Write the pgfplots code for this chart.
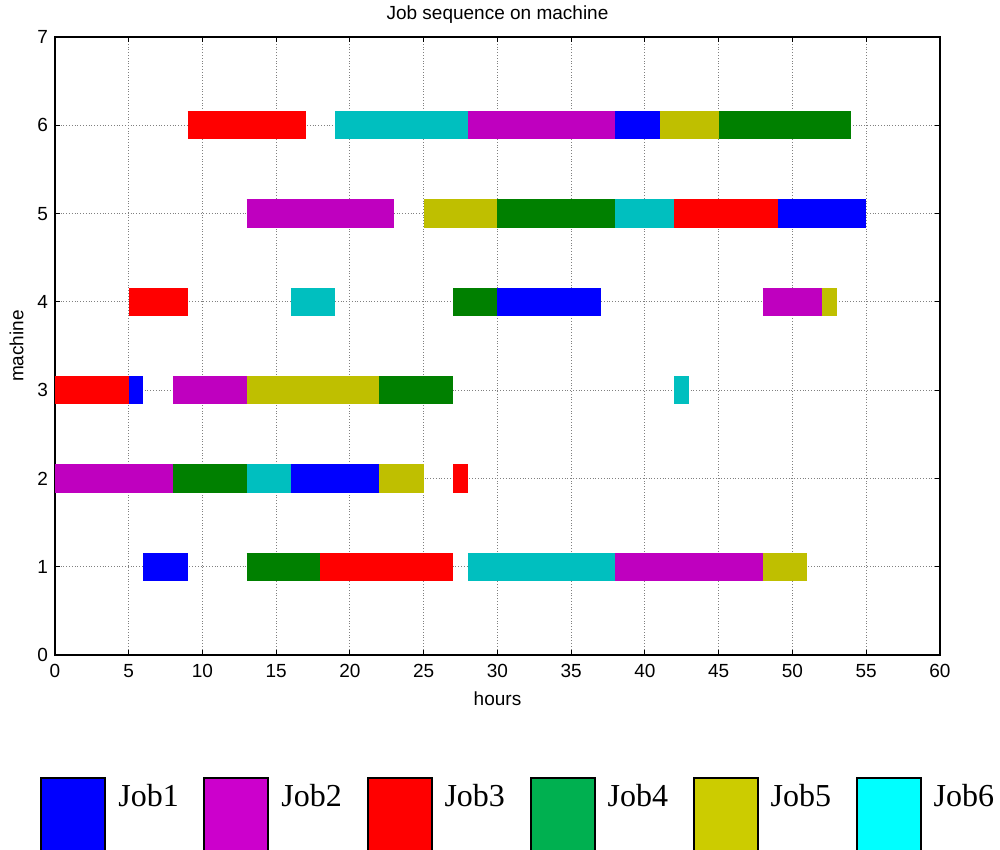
\documentclass[border=0pt]{standalone}
\usepackage{fontspec}
\setmainfont{Liberation Sans}
\newfontfamily\tnr{Liberation Serif}
\usepackage{pgfplots}
\pgfplotsset{compat=1.18}
\definecolor{j1}{RGB}{0,0,255}
\definecolor{j2}{RGB}{191,0,191}
\definecolor{j3}{RGB}{255,0,0}
\definecolor{j4}{RGB}{0,128,0}
\definecolor{j5}{RGB}{191,191,0}
\definecolor{j6}{RGB}{0,191,191}
\definecolor{l1}{RGB}{0,0,255}
\definecolor{l2}{RGB}{204,0,204}
\definecolor{l3}{RGB}{255,0,0}
\definecolor{l4}{RGB}{0,176,80}
\definecolor{l5}{RGB}{204,204,0}
\definecolor{l6}{RGB}{0,255,255}
\begin{document}
\begin{tikzpicture}
\begin{axis}[name=ax, scale only axis, width=442.5pt, height=309pt,
  xmin=0, xmax=60, ymin=0, ymax=7,
  xtick={0,5,...,60}, ytick={0,1,...,7},
  tick align=inside, major tick length=2.5pt,
  tick style={black, line width=0.5pt},
  grid=major, major grid style={densely dotted, black!50, line width=0.5pt},
  axis line style={line width=0.9pt},
  font=\fontsize{9.5}{11}\selectfont,
  tick label style={font=\fontsize{9.5}{11}\selectfont},
  xticklabel style={yshift=-1pt},
  /pgf/number format/assume math mode=true,
  title={Job sequence on machine},
  title style={yshift=-3pt},
  xlabel={hours}, ylabel={machine},
  unbounded coords=jump,
  bar/.style={line width=14.2pt, line cap=butt},
  legend columns=6,
  legend style={at={(axis description cs:-0.01695,-0.1974)}, anchor=north west,
    draw=none, inner sep=0pt, font=\fontsize{16}{18}\tnr,
    nodes={inner sep=0pt},
    /tikz/every odd column/.append style={column sep=6pt},
    /tikz/every even column/.append style={column sep=12.3pt}},
  legend image code/.code={\draw[#1, draw=black, line width=1pt] (0pt,-40pt) rectangle (32pt,9.5pt);},
]
% Job1
\addplot[bar, j1, forget plot] coordinates {(38,6) (41,6) (nan,nan) (49,5) (55,5) (nan,nan) (30,4) (37,4) (nan,nan) (5,3) (6,3) (nan,nan) (16,2) (22,2) (nan,nan) (6,1) (9,1)};
% Job2
\addplot[bar, j2, forget plot] coordinates {(28,6) (38,6) (nan,nan) (13,5) (23,5) (nan,nan) (48,4) (52,4) (nan,nan) (8,3) (13,3) (nan,nan) (0,2) (8,2) (nan,nan) (38,1) (48,1)};
% Job3
\addplot[bar, j3, forget plot] coordinates {(9,6) (17,6) (nan,nan) (42,5) (49,5) (nan,nan) (5,4) (9,4) (nan,nan) (0,3) (5,3) (nan,nan) (27,2) (28,2) (nan,nan) (18,1) (27,1)};
% Job4
\addplot[bar, j4, forget plot] coordinates {(45,6) (54,6) (nan,nan) (30,5) (38,5) (nan,nan) (27,4) (30,4) (nan,nan) (22,3) (27,3) (nan,nan) (8,2) (13,2) (nan,nan) (13,1) (18,1)};
% Job5
\addplot[bar, j5, forget plot] coordinates {(41,6) (45,6) (nan,nan) (25,5) (30,5) (nan,nan) (52,4) (53,4) (nan,nan) (13,3) (22,3) (nan,nan) (22,2) (25,2) (nan,nan) (48,1) (51,1)};
% Job6
\addplot[bar, j6, forget plot] coordinates {(19,6) (28,6) (nan,nan) (38,5) (42,5) (nan,nan) (16,4) (19,4) (nan,nan) (42,3) (43,3) (nan,nan) (13,2) (16,2) (nan,nan) (28,1) (38,1)};
\addlegendimage{fill=l1}\addlegendentry{Job1}
\addlegendimage{fill=l2}\addlegendentry{Job2}
\addlegendimage{fill=l3}\addlegendentry{Job3}
\addlegendimage{fill=l4}\addlegendentry{Job4}
\addlegendimage{fill=l5}\addlegendentry{Job5}
\addlegendimage{fill=l6}\addlegendentry{Job6}
\end{axis}
\pgfresetboundingbox
\useasboundingbox ([xshift=-27.5pt,yshift=-97.5pt]ax.south west) rectangle ([xshift=472.5pt,yshift=327.5pt]ax.south west);
\end{tikzpicture}
\end{document}
